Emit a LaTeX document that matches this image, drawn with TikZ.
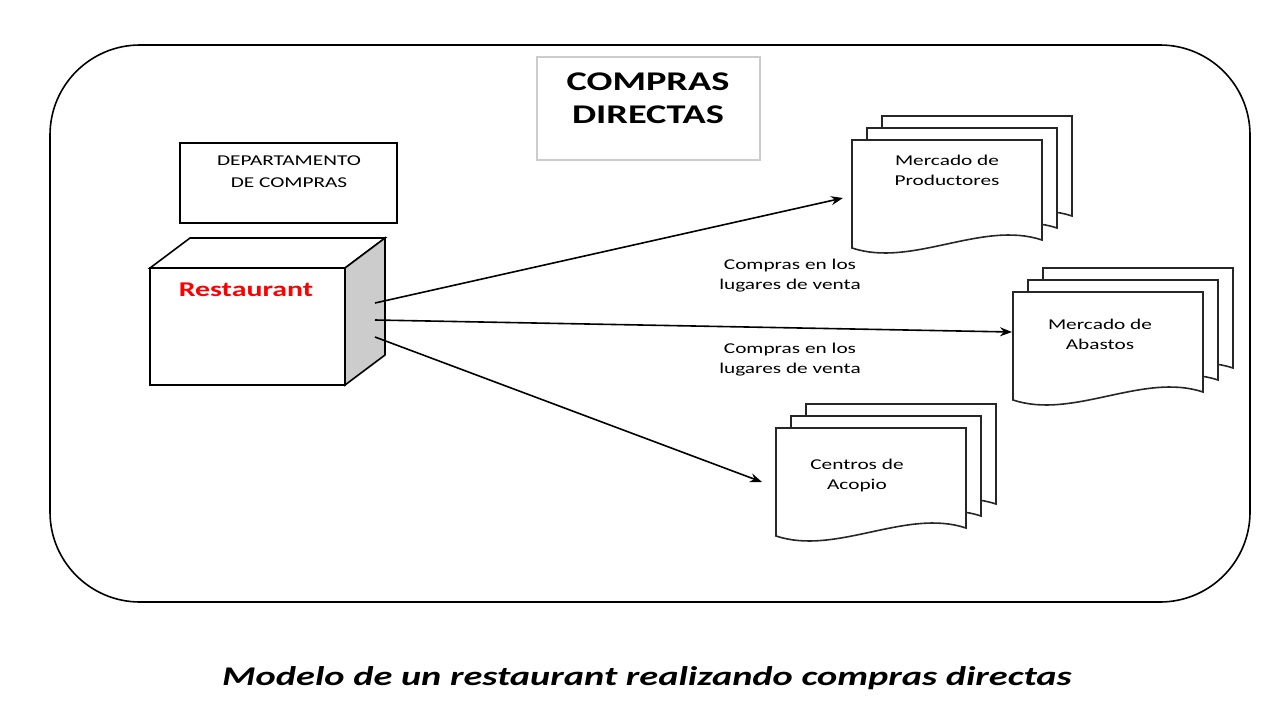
\documentclass[tikz,border=0pt]{standalone}
\usepackage{fontspec}
\setmainfont{Carlito}
\usetikzlibrary{positioning,arrows.meta}
% one sheet of a document stack, anchored at its top left corner
\newcommand{\docsheet}[3]{%
  \filldraw[sheet] (#1,#2) -- ++(190,0) -- ++(0,100)
    .. controls +(-60,-20) and +(60,20) .. ++(-190,8) -- cycle;}
\begin{document}
\begin{tikzpicture}[x=1pt,y=-1pt,
                    sheet/.style={draw=black!85,fill=white,line width=1.6pt},
                    wide/.style={xscale=1.42,transform shape},
                    plain/.style={wide,font=\fontsize{15}{20}\selectfont,align=center},
                    flow/.style={-{Stealth[length=12pt,width=9pt]},line width=1.6pt}
                ]
\useasboundingbox (0,0) rectangle (1280,720);
\draw[line width=1.6pt,rounded corners=90pt] (50,45) rectangle (1250,602);
% title
\draw[black!20,line width=1.5pt] (537,57) rectangle (760,160);
\node[wide,font=\bfseries\fontsize{27}{33}\selectfont,align=center] (title) at (648,98) {COMPRAS\\DIRECTAS};
% department
\draw[line width=1.6pt] (180,143) rectangle (397,223);
\node[plain,font=\fontsize{15}{22}\selectfont] (dept) at (289,172) {DEPARTAMENTO\\DE COMPRAS};
% restaurant cube
\draw[line width=1.6pt,fill=white] (150,268) -- (190,238) -- (385,238) -- (345,268) -- cycle;
\draw[line width=1.6pt,fill=black!20] (345,268) -- (385,238) -- (385,355) -- (345,385) -- cycle;
\draw[line width=1.6pt,fill=white] (150,268) rectangle (345,385);
\node[wide,font=\bfseries\fontsize{21}{25}\selectfont,text=red] (rest) at (246,290) {Restaurant};
\coordinate (o1) at (375,303);
\coordinate (o2) at (375,320);
\coordinate (o3) at (375,337);
% document stacks
\foreach \dx/\dy in {30/-24,15/-12,0/0}
  {\docsheet{852+\dx}{140+\dy}{}}
\foreach \dx/\dy in {30/-24,15/-12,0/0}
  {\docsheet{1013+\dx}{292+\dy}{}}
\foreach \dx/\dy in {30/-24,15/-12,0/0}
  {\docsheet{776+\dx}{428+\dy}{}}
\node[plain] (prod) at (947,170) {Mercado de\\Productores};
\node[plain] (abas) at (1100,334) {Mercado de\\Abastos};
\node[plain] (acop) at (857,475) {Centros de\\Acopio};
\coordinate (prodin) at (843,198);
\coordinate (abasin) at (1012,332);
\coordinate (acopin) at (762,482);
\draw[flow] (o1) -- (prodin);
\draw[flow] (o2) -- (abasin);
\draw[flow] (o3) -- (acopin);
\node[plain] (lab1) at (790,276) {Compras en los\\lugares de venta};
\node[plain] (lab2) at (790,360) {Compras en los\\lugares de venta};
% caption
\node[wide,font=\bfseries\itshape\fontsize{27}{32}\selectfont] (cap) at (647,678) {Modelo de un restaurant realizando compras directas};
\end{tikzpicture}
\end{document}
